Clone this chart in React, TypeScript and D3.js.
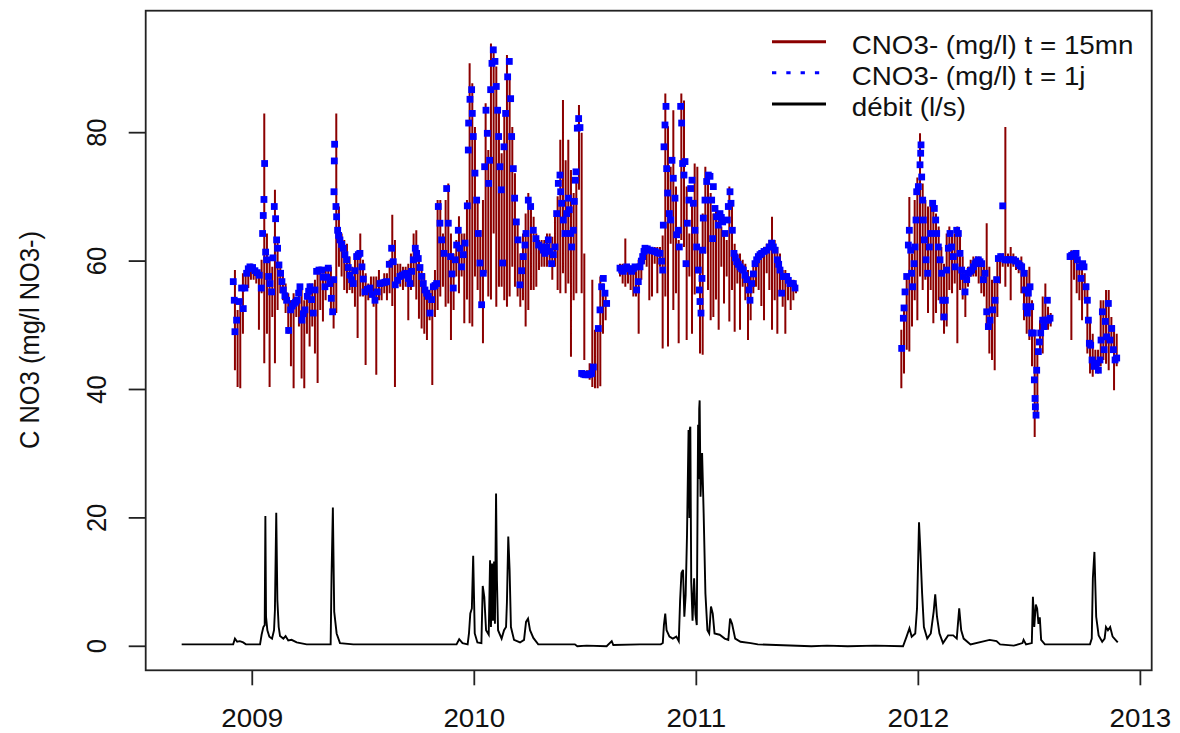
import React from 'react';
import * as d3 from 'd3';

const W = 1180;
const H = 733;
const M = { left: 145.7, right: 1151.7, top: 10.7, bottom: 670.3 };

const xDomain = [2008.52, 2013.051];
const yDomain = [-3.74, 99.0];
const xTicks = [2009, 2010, 2011, 2012, 2013];
const yTicks = [0, 20, 40, 60, 80];
const yTitle = 'C NO3 (mg/l NO3-)';
const legendLabels = ['CNO3- (mg/l) t = 15mn', 'CNO3- (mg/l) t = 1j', 'débit (l/s)'];

// débit (l/s): [decimal year, value]
const debit: [number, number][] = [
  [2008.682,0.3],[2008.914,0.3],[2008.922,1.2],[2008.932,0.7],[2008.944,0.8],[2008.959,0.6],[2008.971,0.3],[2009.035,0.3],[2009.042,1.8],[2009.050,3.0],[2009.056,3.3],[2009.059,20.3],[2009.062,4.6],[2009.068,2.5],[2009.077,1.5],[2009.089,1.2],[2009.098,2.5],[2009.102,5.6],[2009.108,20.8],[2009.113,7.2],[2009.119,3.0],[2009.125,1.6],[2009.140,1.2],[2009.150,1.6],[2009.162,0.9],[2009.177,1.0],[2009.200,0.6],[2009.245,0.3],[2009.353,0.3],[2009.357,10.9],[2009.363,21.6],[2009.369,5.4],[2009.380,2.0],[2009.395,0.5],[2009.455,0.3],[2009.920,0.3],[2009.932,1.1],[2009.947,0.5],[2009.970,0.3],[2009.976,2.0],[2009.982,5.1],[2009.989,5.9],[2009.995,14.1],[2010.002,2.0],[2010.014,0.6],[2010.032,0.5],[2010.038,9.4],[2010.045,7.7],[2010.053,2.5],[2010.065,1.8],[2010.071,13.4],[2010.075,3.0],[2010.080,12.9],[2010.084,4.0],[2010.089,13.2],[2010.093,3.5],[2010.098,23.8],[2010.102,10.3],[2010.107,2.5],[2010.123,1.2],[2010.134,2.5],[2010.143,3.0],[2010.147,6.9],[2010.153,17.1],[2010.159,11.9],[2010.165,3.0],[2010.179,1.0],[2010.206,0.6],[2010.224,1.0],[2010.233,3.8],[2010.242,4.3],[2010.251,2.5],[2010.266,1.3],[2010.288,0.3],[2010.453,0.3],[2010.464,0.0],[2010.506,0.1],[2010.596,0.0],[2010.619,0.8],[2010.626,0.2],[2010.746,0.3],
  [2010.840,0.3],[2010.849,0.5],[2010.854,3.3],[2010.860,5.1],[2010.866,2.5],[2010.879,1.5],[2010.894,1.2],[2010.910,1.5],[2010.921,0.8],[2010.927,7.2],[2010.933,11.4],[2010.940,11.9],[2010.946,4.6],[2010.952,8.0],[2010.958,17.3],[2010.965,33.7],[2010.969,20.0],[2010.971,33.9],[2010.973,34.2],[2010.977,10.1],[2010.983,4.0],[2010.990,10.6],[2010.996,5.0],[2011.002,3.3],[2011.008,34.5],[2011.011,26.0],[2011.013,37.0],[2011.015,38.3],[2011.019,23.3],[2011.026,30.1],[2011.033,20.7],[2011.041,8.2],[2011.050,2.5],[2011.058,2.0],[2011.066,6.2],[2011.074,5.1],[2011.082,2.0],[2011.105,1.8],[2011.128,1.2],[2011.144,1.0],[2011.152,4.3],[2011.161,3.5],[2011.175,1.2],[2011.199,0.7],[2011.245,0.5],[2011.277,0.3],[2011.518,0.0],[2011.588,0.1],[2011.682,0.0],[2011.807,0.1],[2011.931,0.0],[2011.947,1.5],[2011.960,2.8],[2011.970,1.5],[2011.986,2.0],[2011.994,5.9],[2012.003,19.3],[2012.009,15.0],[2012.017,8.2],[2012.025,3.0],[2012.040,1.2],[2012.056,2.0],[2012.069,5.4],[2012.076,8.1],[2012.084,4.6],[2012.095,2.0],[2012.111,0.5],[2012.134,1.7],[2012.157,1.7],[2012.173,1.2],[2012.184,5.9],[2012.193,2.5],[2012.204,1.2],[2012.235,0.3],[2012.321,1.0],[2012.352,0.8],[2012.368,0.3],[2012.430,0.1],[2012.469,0.5],[2012.474,1.0],[2012.485,0.3],[2012.511,0.5],[2012.516,7.7],[2012.522,3.0],[2012.529,6.5],[2012.535,5.9],[2012.541,3.5],[2012.547,4.5],[2012.553,1.0],[2012.570,0.3],[2012.773,0.3],[2012.781,1.2],[2012.786,10.6],[2012.793,14.7],[2012.801,4.6],[2012.812,1.7],[2012.828,0.7],[2012.839,1.2],[2012.845,3.0],[2012.854,2.5],[2012.864,3.0],[2012.875,1.5],[2012.898,0.6]
];

// CNO3- t = 15mn : regular samples every redStep years, each [low, high] over the interval
const redStep = 0.012012;
const red1Start = 2008.9219;
const red1: [number, number][] = [
  [43.0,58.6],[40.4,52.4],[40.2,53.9],[48.7,58.1],[55.5,58.6],[55.8,59.1],[57.1,59.6],[57.1,59.1],[56.5,58.6],[49.3,57.6],[55.0,60.2],[44.1,83.0],[48.7,64.3],[40.4,60.2],[51.3,59.1],[44.1,71.1],[52.4,63.3],[55.0,59.1],[53.9,58.1],[51.9,56.5],[48.7,55.0],[43.6,53.9],[40.2,55.0],[51.3,53.9],[49.8,55.0],[41.7,55.5],[40.2,53.9],[48.7,55.0],[46.7,56.5],[49.8,56.5],[45.6,57.1],[41.0,58.6],[52.4,59.1],[50.6,58.1],[53.9,59.1],[56.0,59.1],[52.4,59.1],[49.5,57.6],[51.9,83.0],[59.1,68.5],[57.6,64.3],[55.5,63.3],[55.0,62.7],[55.5,60.7],[55.0,59.1],[52.9,61.2],[48.0,61.7],[54.5,64.3],[54.5,60.2],[43.8,58.1],[53.9,56.5],[54.5,57.6],[52.9,57.6],[42.3,57.6],[53.9,58.6],[53.9,57.1],[55.0,58.1],[53.9,58.1],[55.0,60.2],[53.0,67.2],[40.4,63.3],[56.5,59.6],[56.0,59.6],[55.5,59.1],[56.0,59.1],[50.8,59.6],[55.5,61.2],[56.0,64.3],[54.0,64.8],[51.0,61.2],[49.5,59.1],[48.7,58.1],[47.7,55.5],[50.8,55.5],[40.7,56.0],[51.3,58.6],[52.4,69.5],[54.5,69.5],[56.0,64.3],[52.9,69.5],[53.4,72.1],[47.7,64.3],[52.4,61.2],[57.6,63.3],[55.0,67.0],[57.6,64.3],[50.3,64.3],[54.0,69.5],[50.3,90.8],[49.8,87.7],[57.6,80.9],[55.5,69.5],[52.9,64.8],[47.2,69.5],[58.1,84.6],[54.5,77.3],[54.0,93.9],[64.3,93.4],[52.9,90.3],[56.0,83.5],[56.0,76.8],[53.9,83.5],[52.9,92.1],[54.5,88.7],[59.1,80.9],[56.0,73.7],[54.5,66.0],[52.9,61.2],[53.9,64.3],[49.8,67.4],[52.4,70.6],[55.5,68.5],[55.5,66.9],[56.0,64.3],
  [58.6,63.3],[59.1,63.3],[59.1,63.3],[59.1,64.3],[59.6,64.3],[57.1,63.8],[59.1,67.4],[55.5,70.1],[55.0,78.9],[58.1,85.1],[55.0,75.7],[56.5,78.9],[45.1,74.2],[53.9,70.6],[55.0,72.6],[71.1,84.3],[55.0,80.0],[44.6,61.2],[42.0,43.0],[41.5,44.1],[40.4,57.1],[40.2,49.3],[40.2,49.3],[40.5,57.6],[48.7,56.5],[50.8,55.0]
];
const red2Start = 2010.6562;
const red2: [number, number][] = [
  [57.6,59.6],[56.5,59.6],[56.0,63.5],[56.5,59.1],[55.5,59.1],[54.5,59.1],[54.5,58.6],[48.7,60.2],[57.1,61.2],[59.6,62.2],[59.1,62.2],[53.9,62.2],[54.5,62.2],[59.6,62.2],[55.0,62.2],[59.1,62.2],[46.4,64.0],[54.5,86.1],[46.7,81.0],[62.7,74.7],[52.4,83.5],[55.0,71.6],[47.2,63.3],[63.3,86.1],[62.2,85.0],[47.7,71.6],[57.6,64.3],[48.7,69.5],[54.8,75.2],[58.1,74.7],[45.6,61.7],[45.4,67.4],[61.2,74.7],[55.5,73.7],[50.8,70.6],[51.3,67.4],[54.0,67.9],[49.3,66.9],[59.1,65.4],[53.4,64.3],[57.6,63.3],[50.6,71.6],[55.5,69.5],[49.0,62.7],[56.5,61.2],[49.3,61.2],[56.0,60.2],[53.9,59.6],[47.7,58.6],[50.8,57.6],[55.0,59.6],[56.0,60.7],[55.5,61.2],[53.0,61.7],[50.8,62.2],[58.1,62.7],[55.5,63.3],[49.3,66.9],[53.9,63.3],[48.7,62.2],[55.5,61.2],[52.9,58.6],[48.7,58.6],[53.9,58.1],[52.4,57.1],[53.9,57.1],[55.0,56.5]
];
const red3Start = 2011.9234;
const red3: [number, number][] = [
  [40.2,49.3],[42.5,52.9],[46.2,57.6],[45.9,70.0],[49.8,61.2],[53.9,69.5],[50.8,73.0],[57.6,79.9],[55.5,72.1],[57.1,69.5],[51.9,68.5],[55.5,69.5],[50.3,69.5],[51.9,67.4],[53.9,65.4],[50.8,62.2],[48.7,59.6],[49.8,64.3],[55.5,65.4],[55.0,64.3],[56.5,64.3],[47.2,65.4],[55.5,64.3],[54.0,60.7],[51.3,58.1],[56.0,59.1],[57.6,60.2],[57.6,60.7],[57.6,60.7],[56.5,60.7],[55.0,60.2],[54.5,59.6],[49.8,65.9],[45.6,59.1],[44.6,57.1],[43.0,57.6],[51.3,60.2],[56.5,61.2],[59.1,61.2],[56.0,80.9],[59.1,61.2],[53.9,62.2],[59.1,61.2],[58.6,60.7],[58.1,60.2],[55.0,60.7],[50.8,59.6],[48.7,58.6],[47.7,59.1],[43.6,53.9],[32.6,48.7],[35.8,46.2],[45.6,50.8],[45.6,54.5],[49.3,56.5],[49.3,52.9],[49.8,51.9]
];
const red4Start = 2012.6892;
const red4: [number, number][] = [
  [47.7,61.7],[57.1,61.2],[55.0,61.7],[53.9,60.2],[50.8,59.1],[53.9,58.1],[45.6,56.5],[42.5,51.3],[42.0,48.7],[43.6,46.2],[42.5,46.2],[43.6,53.9],[44.6,53.9],[44.0,55.5],[43.0,55.5],[46.2,51.3],[39.9,50.0],[43.6,48.7]
];

// CNO3- t = 1j : [decimal year, value]
const blue1: [number, number][] = [
  [2008.9144,56.8],[2008.9189,53.9],[2008.9219,49.0],[2008.9294,50.8],[2008.9414,53.7],[2008.9520,55.8],[2008.9595,52.6],[2008.9670,55.8],[2008.9745,58.1],[2008.9820,58.8],[2008.9895,59.1],[2009.0015,59.0],[2009.0120,58.5],[2009.0225,58.2],[2009.0315,57.8],[2009.0405,55.8],[2009.0465,64.3],[2009.0495,67.1],[2009.0526,69.6],[2009.0556,75.2],[2009.0601,61.4],[2009.0646,60.2],[2009.0736,57.6],[2009.0796,56.5],[2009.0871,55.2],[2009.0931,60.5],[2009.0991,68.5],[2009.1051,66.6],[2009.1096,63.3],[2009.1141,62.0],[2009.1201,59.4],[2009.1276,58.1],[2009.1336,56.8],[2009.1396,55.5],[2009.1471,54.6],[2009.1547,53.9],[2009.1637,49.2],[2009.1727,52.4],[2009.1802,53.0],[2009.1877,53.4],[2009.1952,53.6],[2009.2027,53.9],[2009.2087,55.0],[2009.2147,56.0],[2009.2237,50.8],[2009.2297,51.8],[2009.2372,52.4],[2009.2477,54.5],[2009.2538,55.3],[2009.2598,56.0],[2009.2673,54.0],[2009.2748,51.9],[2009.2823,55.5],[2009.2898,58.4],[2009.3003,58.6],[2009.3123,58.6],[2009.3198,57.5],[2009.3273,56.0],[2009.3348,57.5],[2009.3423,58.9],[2009.3498,56.5],[2009.3559,54.2],[2009.3619,52.1],[2009.3664,57.1],[2009.3679,70.8],[2009.3694,75.6],[2009.3709,78.2],[2009.3769,68.5],[2009.3799,66.9],[2009.3844,64.8],[2009.3889,64.0],[2009.3949,63.3],[2009.4024,62.6],[2009.4099,62.0],[2009.4174,61.0],[2009.4249,60.2],[2009.4324,59.0],[2009.4399,57.8],[2009.4474,57.1],[2009.4550,56.5],[2009.4625,58.5],[2009.4700,60.7],[2009.4775,61.0],[2009.4850,61.2],[2009.4940,59.1],[2009.5000,57.2],[2009.5075,55.2],[2009.5180,55.6],[2009.5300,55.8],[2009.5405,54.8],[2009.5526,53.9],[2009.5631,55.2],[2009.5751,56.5],[2009.5871,56.6],[2009.5976,56.7],[2009.6051,56.8],[2009.6171,59.5],[2009.6276,62.0],[2009.6351,59.9],[2009.6441,56.3],[2009.6547,57.0],[2009.6652,57.6],[2009.6757,57.8],[2009.6862,58.0],[2009.6952,58.1],[2009.7027,57.3],[2009.7102,56.5],[2009.7177,58.4],[2009.7252,60.2],[2009.7342,62.0],[2009.7402,61.2],[2009.7477,60.4],[2009.7553,59.0],[2009.7628,57.6],[2009.7703,56.5],[2009.7778,55.5],[2009.7853,55.0],[2009.7928,54.5],[2009.8003,51.9],[2009.8078,54.0],[2009.8153,56.0],[2009.8228,56.2],[2009.8303,56.5],[2009.8378,68.5],[2009.8453,65.9],[2009.8529,63.3],[2009.8634,61.2],[2009.8754,71.3],[2009.8829,65.9],[2009.8934,60.7],[2009.8994,58.0],[2009.9054,55.8],[2009.9144,60.2],[2009.9204,62.5],[2009.9279,64.8],[2009.9354,62.0],[2009.9429,59.1],[2009.9505,61.0],[2009.9580,62.8],[2009.9685,68.6],[2009.9730,77.3],[2009.9745,81.5],[2009.9805,85.2],[2009.9880,86.7],[2009.9910,83.0],[2009.9955,79.4],[2010.0030,73.7],[2010.0105,69.5],[2010.0180,64.3],[2010.0255,59.7],[2010.0330,53.2],[2010.0405,58.1],[2010.0465,74.7],[2010.0526,83.5],[2010.0586,79.9],[2010.0646,72.1],[2010.0691,75.7],[2010.0736,86.7],[2010.0796,90.8],[2010.0856,92.9],[2010.0931,91.1],[2010.0991,87.2],[2010.1051,83.5],[2010.1096,79.4],[2010.1156,74.7],[2010.1216,71.1],[2010.1276,59.7],[2010.1336,77.8],[2010.1411,83.0],[2010.1502,88.7],[2010.1577,91.1],[2010.1637,85.3],[2010.1682,79.4],[2010.1757,74.4],[2010.1817,69.8],[2010.1892,66.1],[2010.1967,63.3],[2010.2057,56.3],[2010.2132,58.5],[2010.2207,60.7],[2010.2282,62.5],[2010.2327,64.3],[2010.2432,69.5],[2010.2538,68.5],[2010.2658,64.8],[2010.2778,63.5],[2010.2898,62.5],[2010.3033,62.2],[2010.3108,61.7],[2010.3183,61.2],[2010.3258,62.2],[2010.3333,63.3],[2010.3408,61.5],[2010.3483,59.6],[2010.3559,61.0],[2010.3634,62.2],[2010.3709,67.4],[2010.3784,72.1],[2010.3859,73.4],[2010.3889,70.8],[2010.3934,69.0],[2010.4009,66.4],[2010.4084,64.3],[2010.4159,67.4],[2010.4234,69.8],[2010.4279,68.0],[2010.4339,64.3],[2010.4384,62.2],[2010.4459,64.8],[2010.4505,69.3],[2010.4550,72.6],[2010.4580,73.9],[2010.4640,80.7],[2010.4700,82.2],[2010.4760,80.8],[2010.4835,42.5],[2010.4910,42.4],[2010.4985,42.3],[2010.5060,42.3],[2010.5135,42.3],[2010.5210,42.4],[2010.5285,42.5],[2010.5360,43.5],[2010.5586,49.5],[2010.5661,52.4],[2010.5736,56.0],[2010.5811,57.3],[2010.5886,55.0],[2010.5961,53.4]
];
const blue2: [number, number][] = [
  [2010.6562,58.9],[2010.6637,58.6],[2010.6712,58.4],[2010.6787,58.8],[2010.6862,59.1],[2010.6967,58.8],[2010.7087,58.4],[2010.7162,58.8],[2010.7237,59.1],[2010.7312,55.5],[2010.7387,56.8],[2010.7463,59.1],[2010.7523,60.0],[2010.7583,60.7],[2010.7643,61.5],[2010.7688,62.0],[2010.7793,61.9],[2010.7913,61.7],[2010.8018,61.6],[2010.8138,61.5],[2010.8243,61.3],[2010.8363,61.2],[2010.8438,60.0],[2010.8484,58.6],[2010.8514,65.6],[2010.8544,77.8],[2010.8589,81.2],[2010.8634,84.1],[2010.8664,74.4],[2010.8709,70.6],[2010.8784,67.4],[2010.8844,66.4],[2010.8904,75.7],[2010.8964,72.9],[2010.9039,69.8],[2010.9114,64.1],[2010.9189,64.8],[2010.9234,62.2],[2010.9294,84.1],[2010.9339,81.5],[2010.9384,75.2],[2010.9444,73.4],[2010.9490,75.5],[2010.9535,59.6],[2010.9595,65.9],[2010.9670,69.5],[2010.9745,71.3],[2010.9805,72.6],[2010.9865,69.0],[2010.9940,64.8],[2011.0015,62.2],[2011.0090,58.6],[2011.0135,55.5],[2011.0165,53.7],[2011.0210,51.9],[2011.0255,57.3],[2011.0285,61.7],[2011.0315,66.7],[2011.0390,69.5],[2011.0466,72.4],[2011.0541,73.4],[2011.0616,73.2],[2011.0691,69.5],[2011.0736,63.5],[2011.0766,71.6],[2011.0841,68.2],[2011.0916,66.9],[2011.0991,65.6],[2011.1066,67.4],[2011.1126,66.8],[2011.1186,66.1],[2011.1291,64.3],[2011.1396,66.4],[2011.1441,68.5],[2011.1517,70.8],[2011.1562,69.0],[2011.1622,64.8],[2011.1697,61.2],[2011.1757,60.5],[2011.1817,59.9],[2011.1892,59.5],[2011.1967,59.1],[2011.2042,58.8],[2011.2117,58.6],[2011.2192,57.8],[2011.2267,57.1],[2011.2372,55.5],[2011.2417,53.9],[2011.2493,56.5],[2011.2568,58.0],[2011.2643,59.6],[2011.2718,60.2],[2011.2793,60.7],[2011.2868,61.0],[2011.2943,61.2],[2011.3048,61.5],[2011.3168,61.7],[2011.3288,62.2],[2011.3393,62.8],[2011.3469,62.2],[2011.3544,61.7],[2011.3649,60.2],[2011.3709,59.5],[2011.3769,58.6],[2011.3844,55.0],[2011.3919,57.6],[2011.3994,57.6],[2011.4069,57.6],[2011.4144,57.0],[2011.4219,56.5],[2011.4294,56.5],[2011.4369,56.5],[2011.4444,55.8]
];
const blue3: [number, number][] = [
  [2011.9249,46.4],[2011.9324,51.1],[2011.9354,52.7],[2011.9399,55.2],[2011.9474,57.6],[2011.9549,62.5],[2011.9594,64.8],[2011.9654,61.7],[2011.9699,58.1],[2011.9744,56.0],[2011.9805,59.6],[2011.9850,62.2],[2011.9895,66.4],[2011.9925,70.8],[2012.0000,71.6],[2012.0075,75.0],[2012.0105,76.8],[2012.0120,78.1],[2012.0150,73.1],[2012.0195,69.5],[2012.0225,66.4],[2012.0270,63.3],[2012.0345,60.2],[2012.0420,58.1],[2012.0495,62.2],[2012.0555,64.3],[2012.0645,69.0],[2012.0720,68.2],[2012.0781,66.4],[2012.0826,64.3],[2012.0901,62.2],[2012.0976,60.2],[2012.1051,58.1],[2012.1096,53.9],[2012.1156,51.3],[2012.1216,53.9],[2012.1276,58.6],[2012.1351,62.0],[2012.1426,64.3],[2012.1501,62.2],[2012.1576,60.7],[2012.1651,59.1],[2012.1726,64.8],[2012.1802,64.3],[2012.1877,61.2],[2012.1952,58.6],[2012.2027,57.6],[2012.2102,55.2],[2012.2177,57.1],[2012.2252,58.1],[2012.2327,58.4],[2012.2402,58.6],[2012.2477,59.1],[2012.2552,59.6],[2012.2627,59.9],[2012.2702,60.2],[2012.2778,59.9],[2012.2853,59.6],[2012.2928,57.1],[2012.3003,58.1],[2012.3078,52.1],[2012.3153,49.8],[2012.3228,50.8],[2012.3348,52.4],[2012.3453,53.9],[2012.3528,57.1],[2012.3603,60.4],[2012.3708,60.7],[2012.3799,68.6],[2012.3904,60.2],[2012.3979,60.2],[2012.4054,60.2],[2012.4159,60.2],[2012.4279,60.2],[2012.4384,60.0],[2012.4504,59.6],[2012.4579,59.3],[2012.4654,59.1],[2012.4759,58.1],[2012.4805,55.5],[2012.4850,52.9],[2012.4910,51.9],[2012.4955,55.0],[2012.5030,56.0],[2012.5060,52.9],[2012.5105,48.8],[2012.5180,48.8],[2012.5225,41.5],[2012.5255,38.6],[2012.5270,37.3],[2012.5300,36.0],[2012.5330,43.0],[2012.5405,45.9],[2012.5450,47.4],[2012.5510,48.8],[2012.5600,50.8],[2012.5660,49.8],[2012.5750,50.8],[2012.5811,53.9],[2012.5856,50.8],[2012.5931,51.1]
];
const blue4: [number, number][] = [
  [2012.6832,60.7],[2012.6907,60.9],[2012.6982,61.0],[2012.7042,61.1],[2012.7102,61.2],[2012.7162,60.2],[2012.7252,59.1],[2012.7327,57.3],[2012.7402,59.6],[2012.7462,59.1],[2012.7552,56.0],[2012.7612,53.9],[2012.7657,50.8],[2012.7702,47.2],[2012.7762,46.9],[2012.7823,44.6],[2012.7913,43.6],[2012.7973,43.8],[2012.8033,44.1],[2012.8108,43.0],[2012.8183,44.6],[2012.8228,47.7],[2012.8288,52.1],[2012.8363,46.2],[2012.8423,50.6],[2012.8483,48.2],[2012.8558,53.4],[2012.8633,47.7],[2012.8708,49.5],[2012.8784,46.2],[2012.8859,44.6],[2012.8934,44.9]
];

const redSegments: [number, [number, number][]][] = [
  [red1Start, red1], [red2Start, red2], [red3Start, red3], [red4Start, red4],
];
const blueSegments = [blue1, blue2, blue3, blue4];

const FONT = '"Liberation Sans", Arial, Helvetica, sans-serif';
const FS = 25.5;
const SX = 1.09;
const RED = '#8B0000';
const BLUE = '#0000FF';

export default function App() {
  const x = d3.scaleLinear().domain(xDomain).range([M.left, M.right]);
  const y = d3.scaleLinear().domain(yDomain).range([M.bottom, M.top]);
  const line = d3.line<[number, number]>().x(d => x(d[0])).y(d => y(d[1]));

  const redPaths = redSegments.map(([start, pairs]) =>
    pairs
      .map(([lo, hi], i) => {
        const px = x(start + i * redStep);
        return `M${px.toFixed(2)},${y(lo).toFixed(2)}V${y(hi).toFixed(2)}`;
      })
      .join('')
  );

  const sq = 6.8;

  return (
    <div style={{ position: 'absolute', left: 0, top: 0, width: W, height: H, background: '#fff' }}>
      <svg width={W} height={H} style={{ display: 'block' }} fontFamily={FONT}>
        <rect x={0} y={0} width={W} height={H} fill="#fff" />
        {/* débit */}
        <path d={line(debit) || ''} fill="none" stroke="#000" strokeWidth={1.9} />
        {/* 15 mn */}
        {redPaths.map((d, i) => (
          <path key={'r' + i} d={d} fill="none" stroke={RED} strokeWidth={2} />
        ))}
        {/* 1 j */}
        {blueSegments.map((seg, i) => (
          <g key={'bs' + i} fill={BLUE}>
            {seg.map((d, j) => (
              <rect key={j} x={x(d[0]) - sq / 2} y={y(d[1]) - sq / 2} width={sq} height={sq} />
            ))}
          </g>
        ))}
        {/* box */}
        <rect x={M.left} y={M.top} width={M.right - M.left} height={M.bottom - M.top} fill="none" stroke="#222" strokeWidth={1.8} />
        {/* x axis */}
        {xTicks.map(t => (
          <g key={'xt' + t}>
            <line x1={x(t)} x2={x(t)} y1={M.bottom} y2={M.bottom + 15} stroke="#222" strokeWidth={1.8} />
            <text transform={`translate(${x(t)},727) scale(${SX},1)`} textAnchor="middle" fontSize={FS} fill="#111">{t}</text>
          </g>
        ))}
        {/* y axis */}
        {yTicks.map(t => (
          <g key={'yt' + t}>
            <line x1={M.left - 17} x2={M.left} y1={y(t)} y2={y(t)} stroke="#222" strokeWidth={1.8} />
            <text transform={`translate(106,${y(t)}) scale(${SX},1) rotate(-90)`} textAnchor="middle" fontSize={FS} fill="#111">{t}</text>
          </g>
        ))}
        <text transform={`translate(39,340) scale(${SX},1) rotate(-90)`} textAnchor="middle" fontSize={FS} fill="#111">{yTitle}</text>
        {/* legend */}
        <g>
          <line x1={772} x2={826} y1={41.7} y2={41.7} stroke={RED} strokeWidth={3} />
          <line x1={772} x2={826} y1={72.7} y2={72.7} stroke={BLUE} strokeWidth={3} strokeDasharray="4.3 10" />
          <line x1={772} x2={826} y1={104} y2={104} stroke="#000" strokeWidth={3} />
          {legendLabels.map((lab, i) => (
            <text key={lab} transform={`translate(851.7,${54 + i * 31}) scale(${SX},1)`} fontSize={FS} fill="#111">{lab}</text>
          ))}
        </g>
      </svg>
    </div>
  );
}
